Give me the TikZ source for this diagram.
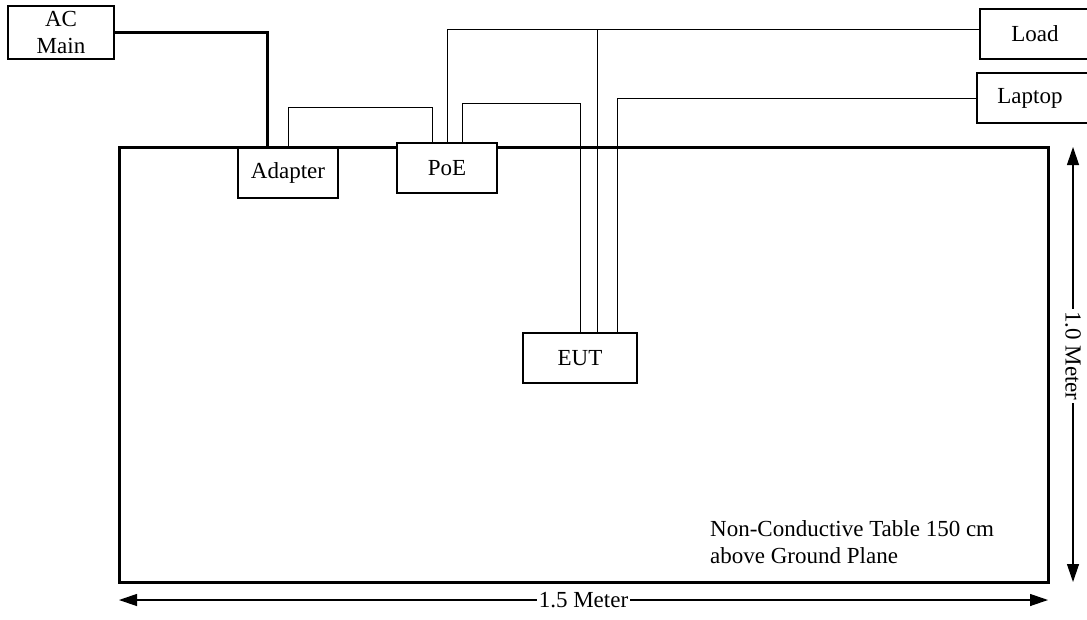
\documentclass[tikz,border=0pt]{standalone}
\usepackage{fontspec}
\setmainfont{Liberation Serif}
\usetikzlibrary{arrows.meta,calc}
\begin{document}
\begin{tikzpicture}[x=1pt,y=-1pt,
  txt/.style={font=\fontsize{23}{27}\selectfont},
  box/.style={txt, draw, line width=1.3pt, fill=white, inner sep=0pt},
  wire/.style={line width=0.9pt},
  power/.style={line width=3pt},
  dim/.style={line width=1.2pt, {Triangle[length=18pt,width=12pt]}-{Triangle[length=18pt,width=12pt]}},
  lbl/.style={txt, fill=white, inner sep=2pt}]
\clip (0,0) rectangle (1087,619);
\node[draw, line width=3pt, minimum width=929pt, minimum height=435pt, inner sep=0pt] (table) at (583.5,364.5) {};
% boxes
\node[box, minimum width=106pt, minimum height=53pt, align=center] (acmain) at (61,32.5) {AC\\Main};
\node[box, minimum width=100pt, minimum height=50pt] (adapter) at (288,173) {Adapter};
\node[box, minimum width=100pt, minimum height=50pt] (poe) at (447,168) {PoE};
\node[box, minimum width=114pt, minimum height=50pt] (eut) at (580,358) {EUT};
\node[box, minimum width=110pt, minimum height=50pt] (load) at (1035,34) {Load};
\node[box, minimum width=120pt, minimum height=50pt] (laptop) at (1037,98) {\hspace*{-14pt}Laptop};
% connectors
\draw[power] (acmain.east) -| ([xshift=-21pt]adapter.north);
\draw[wire] (adapter.north) -- ++(0,-40) -| ([xshift=-15pt]poe.north);
\draw[wire] (poe.north) |- ([yshift=5pt]load.west);
\draw[wire] ([xshift=15pt]poe.north) -- ++(0,-39) -| (eut.north);
\draw[wire] ([xshift=17pt]eut.north) |- ([yshift=5pt]load.west);
\draw[wire] ([xshift=37pt]eut.north) |- (laptop.west);
% dimensions
\coordinate (vt) at (1073,147);
\coordinate (vb) at (1073,582);
\draw[dim] (vt) -- (vb) node[pos=0.48, lbl, rotate=-90] (vlabel) {1.0 Meter};
\coordinate (hl) at (119,600);
\coordinate (hr) at (1048,600);
\draw[dim] (hl) -- (hr) node[midway, lbl] (hlabel) {1.5 Meter};
\node[txt, anchor=north west, inner sep=0pt, align=left] (note) at (710,520) {Non-Conductive Table 150 cm\\above Ground Plane};
\end{tikzpicture}
\end{document}
